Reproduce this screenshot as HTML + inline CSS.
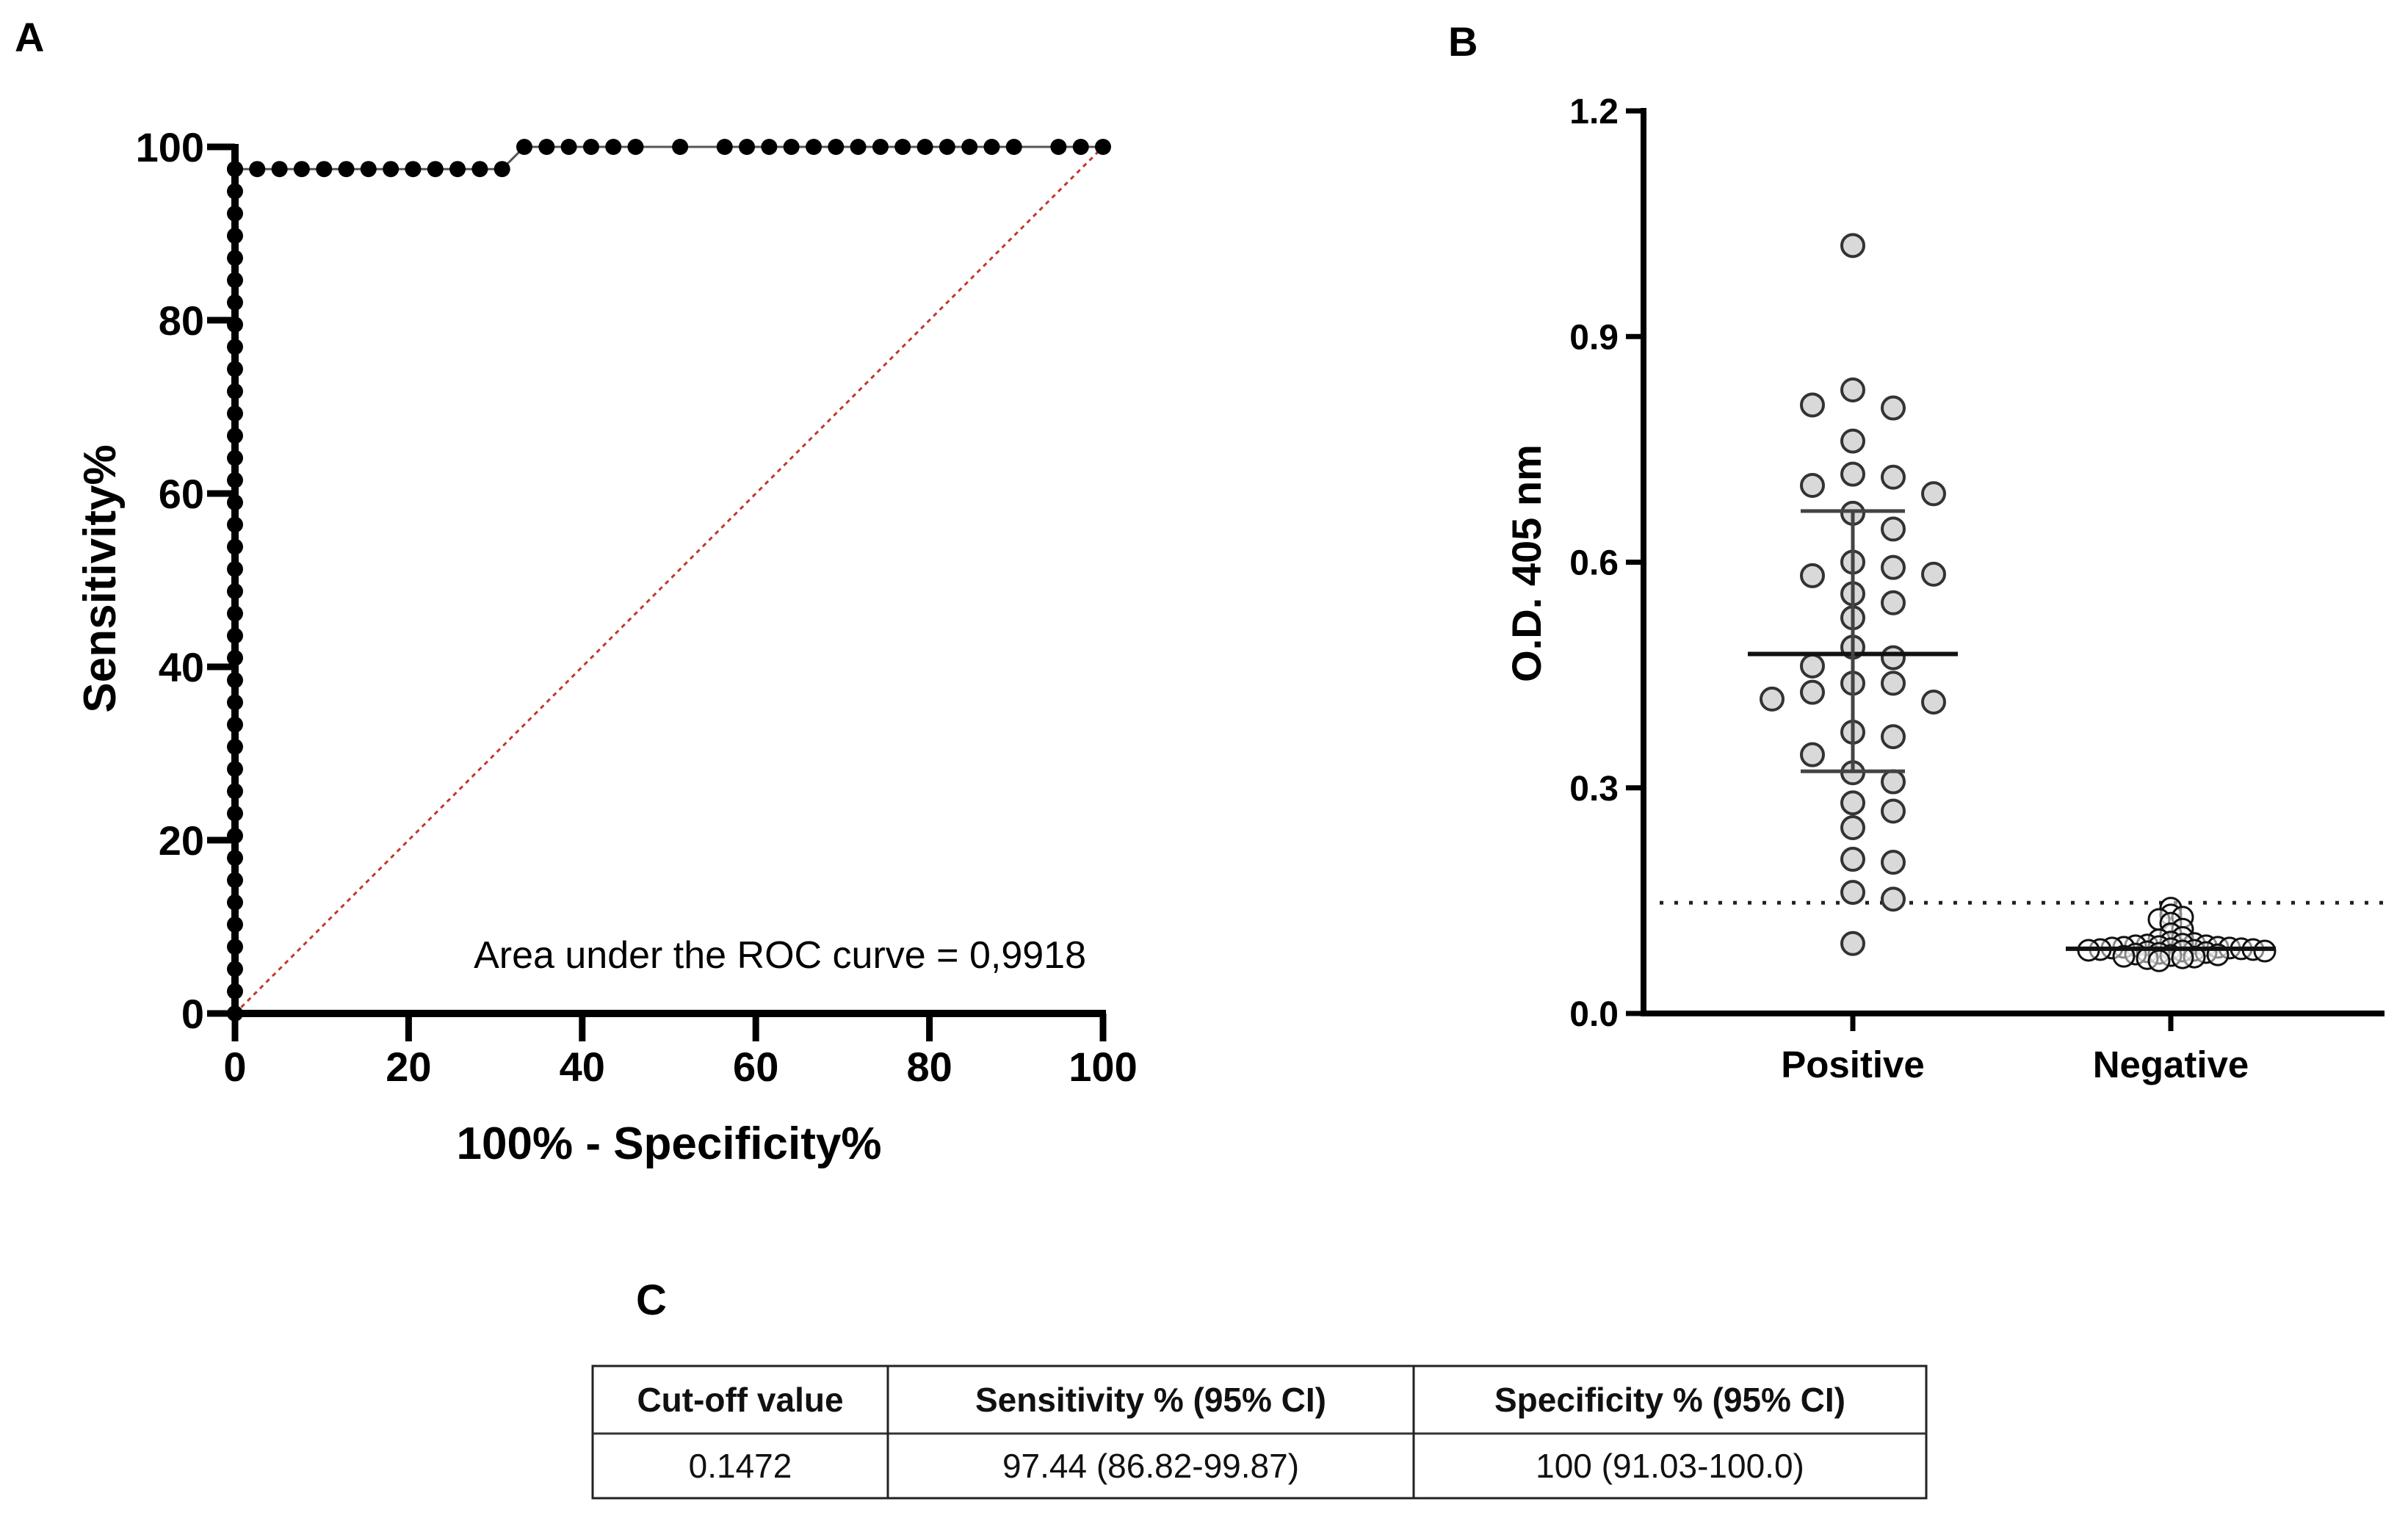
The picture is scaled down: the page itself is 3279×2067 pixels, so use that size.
<!DOCTYPE html>
<html><head><meta charset="utf-8"><style>
html,body{margin:0;padding:0;background:#fff;}
body{width:3279px;height:2067px;position:relative;overflow:hidden;font-family:"Liberation Sans",sans-serif;}
svg{position:absolute;left:0;top:0;}
</style></head><body>
<svg id="fig" width="3279" height="2067" viewBox="0 0 3279 2067" xmlns="http://www.w3.org/2000/svg">
<g id="rocLayer"></g>
<g id="dotLayer"></g>
<g id="tableLayer">
<text x="866" y="1790" font-family="'Liberation Sans Narrow','Liberation Sans',sans-serif" font-weight="bold" font-size="58">C</text>
<rect x="807" y="1860" width="1816" height="180" fill="none" stroke="#222" stroke-width="3"/>
<line x1="807" y1="1952" x2="2623" y2="1952" stroke="#333" stroke-width="3"/>
<line x1="1209" y1="1860" x2="1209" y2="2040" stroke="#222" stroke-width="3"/>
<line x1="1925" y1="1860" x2="1925" y2="2040" stroke="#222" stroke-width="3"/>
<g font-family="'Liberation Sans Narrow','Liberation Sans',sans-serif" font-size="46" text-anchor="middle" fill="#111">
<text x="1008" y="1922" font-weight="bold">Cut-off value</text>
<text x="1567" y="1922" font-weight="bold">Sensitivity % (95% CI)</text>
<text x="2274" y="1922" font-weight="bold">Specificity % (95% CI)</text>
<text x="1008" y="2012">0.1472</text>
<text x="1567" y="2012">97.44 (86.82-99.87)</text>
<text x="2274" y="2012">100 (91.03-100.0)</text>
</g>
</g>
</svg>
<script>
// ---------- ROC data ----------
const rocFpr = [0,0,0,0,0,0,0,0,0,0,0,0,0,0,0,0,0,0,0,0,0,0,0,0,0,0,0,0,0,0,0,0,0,0,0,0,0,0,0,0,
  2.56,5.13,7.69,10.26,12.82,15.38,17.95,20.51,23.08,25.64,28.21,30.77,
  33.33,35.90,38.46,41.03,43.59,46.15,51.28,56.41,58.97,61.54,64.10,66.67,69.23,71.79,74.36,76.92,79.49,82.05,84.62,87.18,89.74,94.87,97.44,100];
const rocTpr = [0,2.56,5.13,7.69,10.26,12.82,15.38,17.95,20.51,23.08,25.64,28.21,30.77,33.33,35.90,38.46,41.03,43.59,46.15,48.72,51.28,53.85,56.41,58.97,61.54,64.10,66.67,69.23,71.79,74.36,76.92,79.49,82.05,84.62,87.18,89.74,92.31,94.87,97.44,97.44,
  97.44,97.44,97.44,97.44,97.44,97.44,97.44,97.44,97.44,97.44,97.44,97.44,
  100,100,100,100,100,100,100,100,100,100,100,100,100,100,100,100,100,100,100,100,100,100,100,100];
const rocTicks = [0,20,40,60,80,100];
const aucLabel = "Area under the ROC curve = 0,9918";

// ---------- Dot plot data ----------
const categories = ["Positive","Negative"];
const positiveValues = [1.021,0.829,0.805,0.809,0.761,0.717,0.713,0.702,0.691,0.665,0.644,0.600,0.593,0.582,0.584,0.558,0.546,0.526,0.487,0.473,0.462,0.439,0.439,0.427,0.414,0.418,0.374,0.368,0.344,0.320,0.308,0.280,0.269,0.247,0.205,0.201,0.161,0.152,0.093];
const negativeValues = [0.140,0.131,0.128,0.125,0.120,0.112,0.106,0.101,0.098,0.095,0.093,0.092,0.091,0.090,0.090,0.089,0.088,0.088,0.087,0.087,0.086,0.086,0.085,0.085,0.084,0.084,0.083,0.083,0.082,0.081,0.080,0.079,0.078,0.077,0.076,0.075,0.074,0.073,0.070];
const positiveMean = 0.478, positiveSdLow = 0.322, positiveSdHigh = 0.668;
const negativeMean = 0.086;
const cutoffValue = 0.1472;
const odTicks = [0.0,0.3,0.6,0.9,1.2];
const odTickLabels = ["0.0","0.3","0.6","0.9","1.2"];

const NS = "http://www.w3.org/2000/svg";
function mk(parent, tag, attrs, text){
  const e = document.createElementNS(NS, tag);
  for (const k in attrs) e.setAttribute(k, attrs[k]);
  if (text !== undefined) e.textContent = text;
  parent.appendChild(e);
  return e;
}

// ---------- ROC chart ----------
const roc = document.getElementById('rocLayer');
const rx0=320, rx1=1502, ry0=1380, ry1=200;
const rX = v => rx0 + (rx1-rx0)*v/100;
const rY = v => ry0 - (ry0-ry1)*v/100;

let t = mk(roc,'text',{x:20,y:70,'font-size':56,'font-weight':'bold'},'A');



let diag = mk(roc,'line',{x1:rX(0),y1:rY(0),x2:rX(100),y2:rY(100),stroke:'#c0392b','stroke-width':3,'stroke-dasharray':'6 6'});



let pts = rocFpr.map((f,i)=>rX(f)+','+rY(rocTpr[i])).join(' ');
let curve = mk(roc,'polyline',{points:pts,fill:'none',stroke:'#555','stroke-width':3});



let ax = mk(roc,'line',{x1:rx0-6,y1:ry0,x2:rx1+4,y2:ry0,stroke:'#000','stroke-width':10});


let ay = mk(roc,'line',{x1:rx0,y1:ry0+4,x2:rx0,y2:ry1-4,stroke:'#000','stroke-width':10});



rocTicks.forEach(v=>{
  let tk = mk(roc,'line',{x1:rX(v),y1:ry0,x2:rX(v),y2:ry0+38,stroke:'#000','stroke-width':9});
  
  
  let tl = mk(roc,'text',{x:rX(v),y:ry0+92,'font-size':56,'font-weight':'bold','text-anchor':'middle'},String(v));
  
  
  let tk2 = mk(roc,'line',{x1:rx0,y1:rY(v),x2:rx0-38,y2:rY(v),stroke:'#000','stroke-width':9});
  
  
  let tl2 = mk(roc,'text',{x:rx0-42,y:rY(v)+20,'font-size':56,'font-weight':'bold','text-anchor':'end'},String(v));
  
  
});

rocFpr.forEach((f,i)=>{
  let c = mk(roc,'circle',{cx:rX(f),cy:rY(rocTpr[i]),r:11,fill:'#000'});
  
  
});

let xt = mk(roc,'text',{x:(rx0+rx1)/2,y:1578,'font-size':62,'font-weight':'bold','text-anchor':'middle'},'100% - Specificity%');


let yt = mk(roc,'text',{x:0,y:0,'font-size':62,'font-weight':'bold','text-anchor':'middle',transform:'translate(157,788) rotate(-90)'},'Sensitivity%');


let auc = mk(roc,'text',{x:1479,y:1318,'font-size':52,'text-anchor':'end'},aucLabel);



// ---------- Dot plot ----------
const dp = document.getElementById('dotLayer');
const bx0=2238, bx1=3247, by0=1380, by1=151;
const bY = v => by0 - (by0-by1)*v/1.2;
const catX = [2523, 2956];

let tb = mk(dp,'text',{x:1972,y:76,'font-size':56,'font-weight':'bold'},'B');



let cut = mk(dp,'line',{x1:bx0+22,y1:bY(cutoffValue),x2:bx1,y2:bY(cutoffValue),stroke:'#222','stroke-width':5,'stroke-dasharray':'5 15'});



function swarm(vals, cx, step, minDy){
  const placed=[]; const out=[];
  vals.forEach(v=>{
    const y=bY(v);
    for(let k=0;k<80;k++){
      const off = (k===0?0:(k%2? 1:-1)*Math.ceil(k/2))*step;
      if(!placed.some(p=>p.off===off && Math.abs(p.y-y)<minDy)){
        placed.push({off,y}); out.push({x:cx+off,y}); break;
      }
    }
  });
  return out;
}
swarm(positiveValues, catX[0], 55, 31).forEach(p=>{
  let c = mk(dp,'circle',{cx:p.x,cy:p.y,r:15,fill:'#d9d9d9',stroke:'#333','stroke-width':4});
  
  
});
swarm(negativeValues, catX[1], 16, 9).forEach(p=>{
  let c = mk(dp,'circle',{cx:p.x,cy:p.y,r:14,fill:'#fff','fill-opacity':0.5,stroke:'#111','stroke-width':3});
  
  
});

let ml = mk(dp,'line',{x1:catX[0]-143,y1:bY(positiveMean),x2:catX[0]+143,y2:bY(positiveMean),stroke:'#111','stroke-width':6});


let sdv = mk(dp,'line',{x1:catX[0],y1:bY(positiveSdHigh),x2:catX[0],y2:bY(positiveSdLow),stroke:'#444','stroke-width':5});


[positiveSdHigh,positiveSdLow].forEach(v=>{
  let cp = mk(dp,'line',{x1:catX[0]-71,y1:bY(v),x2:catX[0]+71,y2:bY(v),stroke:'#444','stroke-width':5});
  
  
});
let nml = mk(dp,'line',{x1:catX[1]-143,y1:bY(negativeMean),x2:catX[1]+143,y2:bY(negativeMean),stroke:'#111','stroke-width':6});



let bax = mk(dp,'line',{x1:bx0-4,y1:by0,x2:bx1,y2:by0,stroke:'#000','stroke-width':8});


let bay = mk(dp,'line',{x1:bx0,y1:by0+4,x2:bx0,y2:by1-4,stroke:'#000','stroke-width':8});


odTicks.forEach((v,i)=>{
  let tk = mk(dp,'line',{x1:bx0,y1:bY(v),x2:bx0-24,y2:bY(v),stroke:'#000','stroke-width':7});
  
  
  let tl = mk(dp,'text',{x:bx0-34,y:bY(v)+17,'font-size':48,'font-weight':'bold','text-anchor':'end'},odTickLabels[i]);
  
  
});
categories.forEach((c,i)=>{
  let tk = mk(dp,'line',{x1:catX[i],y1:by0,x2:catX[i],y2:by0+24,stroke:'#000','stroke-width':7});
  
  
  let tl = mk(dp,'text',{x:catX[i],y:by0+87,'font-size':51,'font-weight':'bold','text-anchor':'middle'},c);
  
  
});
let byt = mk(dp,'text',{x:0,y:0,'font-size':56,'font-weight':'bold','text-anchor':'middle',transform:'translate(2098,767) rotate(-90)'},'O.D. 405 nm');


</script>
</body></html>
